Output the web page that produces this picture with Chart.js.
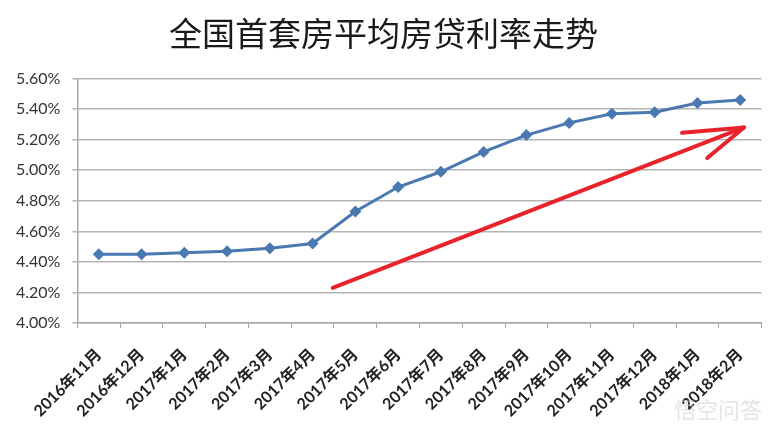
<!DOCTYPE html>
<html>
<head>
<meta charset="utf-8">
<script src="https://cdn.jsdelivr.net/npm/chart.js@4"></script>
<style>
  html, body { margin: 0; padding: 0; background: #fff; }
  #wrap { width: 771px; height: 433px; }
</style>
</head>
<body>
<div id="wrap"><canvas id="chart" width="771" height="433"></canvas></div>
<script>
// 全国首套房平均房贷利率
const months = ['2016年11月', '2016年12月', '2017年1月', '2017年2月', '2017年3月', '2017年4月',
  '2017年5月', '2017年6月', '2017年7月', '2017年8月', '2017年9月', '2017年10月',
  '2017年11月', '2017年12月', '2018年1月', '2018年2月']
const rates = [4.45, 4.45, 4.46, 4.47, 4.49, 4.52, 4.73, 4.89, 4.99, 5.12, 5.23, 5.31, 5.37, 5.38, 5.44, 5.46]
const yTicks = [4.0, 4.2, 4.4, 4.6, 4.8, 5.0, 5.2, 5.4, 5.6]

// hand drawn red arrow, in (category index, rate) units
const arrowLine = [[5.47, 4.23], [15.09, 5.28]]
const arrowHead = [[13.64, 5.245], [15.09, 5.28], [14.23, 5.08]]

const arrowPlugin = {
  id: 'arrow',
  afterDatasetsDraw(chart) {
    const { ctx, scales } = chart
    const px = p => [scales.x.getPixelForValue(p[0]), scales.y.getPixelForValue(p[1])]
    ctx.save()
    ctx.strokeStyle = '#e8232b'
    ctx.lineWidth = 4
    ctx.lineCap = 'round'
    ctx.lineJoin = 'round'
    ctx.beginPath()
    const a = px(arrowLine[0]), b = px(arrowLine[1])
    ctx.moveTo(a[0], a[1])
    ctx.lineTo(b[0], b[1])
    ctx.stroke()
    ctx.beginPath()
    arrowHead.forEach((p, i) => {
      const q = px(p)
      if (i === 0) ctx.moveTo(q[0], q[1])
      else ctx.lineTo(q[0], q[1])
    })
    ctx.stroke()
    ctx.restore()
  },
  afterDraw(chart) {
    // faint watermark
    const { ctx } = chart
    ctx.save()
    ctx.fillStyle = 'rgba(205,205,205,0.55)'
    ctx.font = '22px "Noto Sans CJK SC"'
    ctx.textAlign = 'right'
    ctx.textBaseline = 'middle'
    ctx.fillText('悟空问答', 762, 410)
    ctx.restore()
  }
}

const ctx = document.getElementById('chart').getContext('2d')
const chart = new Chart(ctx, {
  type: 'line',
  data: {
    labels: months,
    datasets: [
      {
        data: rates,
        borderColor: '#4a78b0',
        backgroundColor: '#4a78b0',
        borderWidth: 3,
        pointStyle: 'rectRot',
        pointRadius: 6,
        pointBorderWidth: 0,
        tension: 0
      }
    ]
  },
  options: {
    responsive: false,
    animation: false,
    devicePixelRatio: 1,
    layout: { padding: { left: 4, right: 8, top: 0, bottom: 0 } },
    plugins: {
      legend: { display: false },
      tooltip: { enabled: false },
      title: {
        display: true,
        text: '全国首套房平均房贷利率走势',
        color: '#1a1a1a',
        font: { family: '"Noto Sans CJK SC"', size: 33, weight: 'normal' },
        padding: { top: 14, bottom: 25 }
      }
    },
    scales: {
      x: {
        offset: true,
        afterFit: axis => { axis.height = 110 },
        grid: { offset: true, drawOnChartArea: false, color: '#a8a8a8', tickLength: 5 },
        border: { color: '#a8a8a8', width: 1.5 },
        ticks: {
          autoSkip: false,
          maxRotation: 45,
          minRotation: 45,
          color: '#222',
          padding: 17,
          font: { family: 'Lato, "Noto Sans CJK SC"', size: 16, weight: 'bold' }
        }
      },
      y: {
        min: yTicks[0],
        max: yTicks[yTicks.length - 1],
        afterBuildTicks: axis => { axis.ticks = yTicks.map(v => ({ value: v })) },
        grid: { color: '#b4b4b4', lineWidth: 1.5, tickLength: 5 },
        border: { color: '#a8a8a8', width: 1.5 },
        ticks: {
          color: '#333',
          padding: 12,
          font: { family: 'Lato', size: 16 },
          callback: v => v.toFixed(2) + '%'
        }
      }
    }
  },
  plugins: [arrowPlugin]
})
</script>
</body>
</html>
